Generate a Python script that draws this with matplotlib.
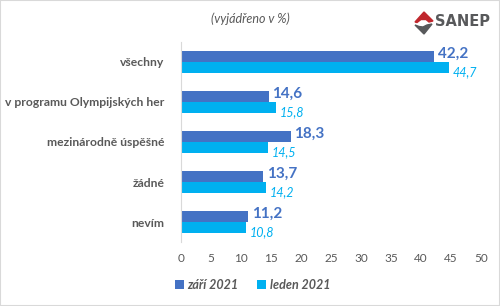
import numpy as np
import matplotlib.pyplot as plt
from matplotlib.patches import Polygon, Rectangle

plt.rcParams['font.family'] = ['Lato', 'DejaVu Sans']

categories = ['všechny', 'v programu Olympijských her', 'mezinárodně úspěšné', 'žádné', 'nevím']
zari = [42.2, 14.6, 18.3, 13.7, 11.2]
leden = [44.7, 15.8, 14.5, 14.2, 10.8]
series_names = ['září 2021', 'leden 2021']

c_dark = '#4472C4'
c_light = '#00B0F0'
c_text = '#595959'

fig = plt.figure(figsize=(5.0, 3.06), dpi=100)
ax = fig.add_axes([0.362, 0.209, 0.600, 0.654])

y = np.arange(len(categories))
h = 0.27
b1 = ax.barh(y - h / 2, zari, height=h, color=c_dark, label=series_names[0])
b2 = ax.barh(y + h / 2, leden, height=h, color=c_light, label=series_names[1])

for yi, v in zip(y, zari):
    ax.text(v + 0.6, yi - h / 2 - 0.08, f'{v:.1f}'.replace('.', ','), color=c_dark,
            fontsize=11, fontweight='bold', va='center', ha='left')
for yi, v in zip(y, leden):
    ax.text(v + 0.6, yi + h / 2 + 0.12, f'{v:.1f}'.replace('.', ','), color=c_light,
            fontsize=9, fontstyle='italic', va='center', ha='left')

ax.set_ylim(len(categories) - 0.5, -0.5)
ax.set_xlim(0, 50)
ax.set_xticks(range(0, 51, 5))
ax.set_yticks(y)
ax.set_yticklabels(categories, fontsize=8.7, fontweight='bold', color=c_text)
ax.tick_params(axis='x', labelsize=8.5, labelcolor=c_text, length=0, pad=8)
ax.tick_params(axis='y', length=0, pad=12)
for s in ['top', 'right', 'bottom']:
    ax.spines[s].set_visible(False)
ax.spines['left'].set_color('#D9D9D9')

fig.text(0.5, 0.938, '(vyjádřeno v %)', fontsize=9, fontstyle='italic',
         color=c_text, ha='center', va='center')

leg = fig.legend(handles=[b1, b2], loc='center', bbox_to_anchor=(0.505, 0.068), ncol=2,
                 frameon=False, handlelength=0.7, handleheight=0.7, handletextpad=0.3,
                 columnspacing=1.5, prop={'size': 9, 'style': 'italic', 'weight': 'bold'})
for t in leg.get_texts():
    t.set_color(c_text)

# SANEP logo (pixel coords)
def px(pts):
    return [(x / 500, 1 - yy / 306) for x, yy in pts]
red = [(424, 12), (433, 21), (429, 22), (426, 19.5), (421, 19.5), (417, 22.5), (415, 22)]
gray = [(415, 25), (419, 26.5), (423, 27), (427, 25), (432, 24), (424, 34)]
fig.patches.append(Polygon(px(red), closed=True, transform=fig.transFigure, color='#C0272D'))
fig.patches.append(Polygon(px(gray), closed=True, transform=fig.transFigure, color='#58595B'))
fig.text(435 / 500, 1 - 22 / 306, 'SANEP', fontsize=10.5, fontweight='bold',
         color='#58595B', ha='left', va='center', family=['DejaVu Sans'])

fig.patches.append(Rectangle((0, 0), 1, 1, transform=fig.transFigure, fill=False,
                             edgecolor='#D9D9D9', linewidth=1.5))

plt.savefig('out.png', dpi=100)
